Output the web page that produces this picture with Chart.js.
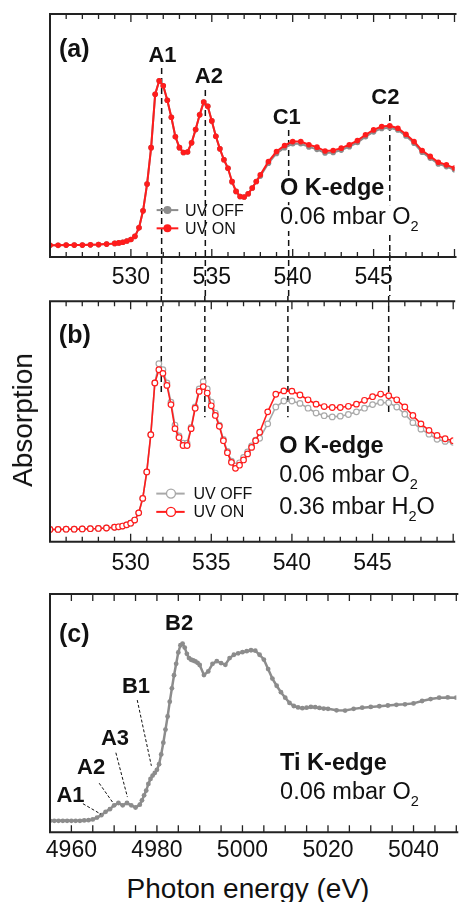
<!DOCTYPE html>
<html>
<head>
<meta charset="utf-8">
<script src="https://cdn.jsdelivr.net/npm/chart.js@4.4.0/dist/chart.umd.min.js"></script>
<style>
  body { margin: 0; background: #fff; width: 461px; height: 902px; overflow: hidden; position: relative;
         font-family: 'Liberation Sans', Arial, Helvetica, sans-serif; }
  canvas { position: absolute; left: 0; }
  #ytitle { position: absolute; left: 23px; top: 420px; transform: translate(-50%, -50%) rotate(-90deg);
            font-size: 28px; white-space: nowrap; color: #111; }
  #xtitle { position: absolute; left: 248px; top: 889px; transform: translate(-50%, -50%);
            font-size: 28px; white-space: nowrap; color: #111; }
</style>
</head>
<body>
<canvas id="chartA" width="461" height="296" style="top:0px"></canvas>
<canvas id="chartB" width="461" height="294" style="top:296px"></canvas>
<canvas id="chartC" width="461" height="280" style="top:590px"></canvas>
<div id="ytitle">Absorption</div>
<div id="xtitle">Photon energy (eV)</div>
<script>
// ---- data ----
const oEnergy = [525, 525.5, 526, 526.5, 527, 527.5, 528, 528.5, 529,
  529.25, 529.5, 529.75, 530, 530.25, 530.5, 530.75, 531, 531.25, 531.5, 531.75,
  532, 532.25, 532.5, 532.75, 533, 533.25, 533.5, 533.75, 534, 534.25, 534.5, 534.75,
  535, 535.25, 535.5, 535.75, 536, 536.25, 536.5, 536.75, 537, 537.25, 537.5, 537.75,
  538, 538.5, 539, 539.5, 540, 540.5, 541, 541.5, 542, 542.5, 543, 543.5,
  544, 544.5, 545, 545.5, 546, 546.5, 547, 547.5, 548, 548.5, 549, 549.5, 550];

// panel (a): O K-edge, 0.06 mbar O2
const aUvOn = [4.8, 4.8, 4.9, 4.9, 4.9, 5.0, 5.1, 5.3, 5.6,
  5.8, 6.1, 6.6, 7.2, 8.5, 12, 19, 30, 45, 67, 72.5,
  70.5, 64.5, 57.5, 49.5, 45, 43, 43.2, 47, 52.5, 58.5, 63.8, 62,
  56, 49.7, 44.5, 40, 36.5, 31, 27, 24.9, 24.7, 26, 28.4, 31.1,
  33.8, 39.3, 43.4, 45.9, 47.5, 47.5, 46.2, 45.2, 43.6, 43.8, 44.8, 46.2,
  47.9, 50.3, 52.3, 53.7, 54, 53, 50.5, 47.5, 43.8, 41.4, 39, 37.9, 36.6];
const aUvOff = [4.8, 4.8, 4.9, 4.9, 4.9, 5.0, 5.1, 5.3, 5.6,
  5.8, 6.1, 6.6, 7.2, 8.5, 12, 19, 30, 45, 67, 72.5,
  70.5, 64.5, 57.5, 49.5, 45, 43, 43.2, 47, 52.5, 58.5, 63.8, 62,
  56, 49.7, 44.5, 40, 36.5, 31, 27, 24.9, 24.7, 26, 28.4, 31.1,
  33.3, 38.6, 42.6, 45.0, 46.6, 46.6, 45.3, 44.3, 42.8, 43.0, 44.0, 45.4,
  47.1, 49.5, 51.5, 52.9, 53.2, 52.3, 49.8, 46.8, 43.1, 40.7, 38.3, 37.2, 35.9];

// panel (b): O K-edge, 0.06 mbar O2 + 0.36 mbar H2O
const bUvOn = [5.1, 5.1, 5.2, 5.2, 5.3, 5.4, 5.5, 5.7, 6.0,
  6.2, 6.5, 7.0, 7.7, 9.0, 12, 18, 29, 44.5, 66, 71.5,
  70, 65, 57, 47, 43.3, 40, 40, 47, 55.5, 62.5, 64.5, 61.8,
  56.5, 52.5, 48, 42, 37, 33, 30.5, 31.8, 34, 36.5, 39.2, 42,
  45.5, 54, 61.3, 62.7, 62.6, 61, 59, 57.2, 56.2, 55.8, 55.8, 56.3,
  57.2, 58.8, 60.3, 61.4, 60.7, 59, 56, 52.5, 49, 46.3, 44.2, 42.8, 42];
const bUvOff = [5.1, 5.1, 5.2, 5.2, 5.3, 5.4, 5.5, 5.7, 6.0,
  6.2, 6.5, 7.0, 7.7, 9.0, 12, 18, 29, 44.5, 66, 74,
  71.5, 66, 58, 48.5, 44, 41, 41, 47.5, 56, 63.5, 66.5, 63.5,
  58, 53.5, 48.5, 42.5, 37.5, 33.5, 31.5, 32.8, 35, 37.3, 39.8, 42.2,
  43, 49, 56, 58.5, 58.5, 57.5, 55.5, 53.5, 52.4, 51.9, 52.2, 52.9,
  54, 55.5, 57, 57.9, 57.8, 56, 53, 49.5, 46.8, 44.7, 42.6, 41.7, 41.3];

// panel (c): Ti K-edge
const tiEnergy = [4955, 4956, 4957, 4958, 4959, 4960, 4961, 4962, 4963, 4964, 4965,
  4966, 4967, 4968, 4969, 4970, 4971, 4972, 4973, 4974, 4975, 4976,
  4976.5, 4977, 4977.5, 4978, 4978.5, 4979, 4979.5, 4980, 4980.5, 4981, 4981.5,
  4982, 4982.5, 4983, 4983.5, 4984, 4984.5, 4985, 4985.5, 4986, 4986.5, 4987,
  4987.5, 4988, 4988.5, 4989, 4989.5, 4990,
  4991, 4992, 4993, 4994, 4995, 4996, 4997, 4998, 4999, 5000, 5001, 5002, 5003,
  5004, 5005, 5006, 5007, 5008, 5009, 5010, 5011, 5012, 5013, 5014, 5015, 5016,
  5017, 5018, 5019, 5020,
  5022, 5024, 5026, 5028, 5030, 5032, 5034, 5036, 5038, 5040, 5042, 5044, 5046, 5048, 5050];
const tiAbs = [4.8, 4.8, 4.8, 4.8, 4.8, 4.8, 4.8, 4.8, 5.0, 5.1, 5.4,
  6.2, 7.2, 8.6, 9.7, 11.3, 12.3, 11.3, 12.3, 11.3, 10.4, 11.6,
  13.4, 15.5, 17.5, 20.3, 22.4, 23.8, 24.9, 26.2, 28.6, 32.7, 37.6,
  43.1, 48.6, 54.8, 60.4, 65.9, 70.7, 75.5, 78.5, 79.2, 77.5, 74.9,
  73.1, 72.4, 72.1, 71.7, 71.1, 70.2,
  66, 67.5, 70.7, 71.8, 71.0, 70.3, 73.1, 74.5, 75.1, 75.6, 76.0, 76.4, 76.2,
  74.5, 72.5, 68.5, 64.5, 61.5, 58.8, 56.5, 54.3, 53, 52.4, 52.1, 52.3, 52.6,
  52.5, 52.2, 51.9, 51.8,
  51.2, 51.1, 51.8, 52.3, 52.6, 52.9, 53.2, 53.5, 53.7, 54.1, 55.1, 55.9, 56.5, 56.6, 56.5];

// peak markers (eV) and annotation labels
const oPeakNames = ["A1", "A2", "C1", "C2"];
const oPeakEnergy = [531.9, 534.6, 539.75, 546.0];
const tiPeakNames = ["A1", "A2", "A3", "B1", "B2"];

const FONT = "'Liberation Sans', Arial, Helvetica, sans-serif";
const RED = "#ff1c1c";
const GREY = "#8c8c8c";
const LIGHTGREY = "#a9a9a9";

function xy(xs, ys) { return xs.map((x, i) => ({ x: x, y: ys[i] })); }

function drawRich(ctx, parts, x, y, size, bold, box) {
  ctx.textAlign = "left";
  ctx.textBaseline = "alphabetic";
  let w = 0;
  const pieces = parts.map(p => {
    const fs = p[1] ? size * 0.62 : size;
    ctx.font = (bold ? "bold " : "") + fs + "px " + FONT;
    const r = { t: p[0], fs: fs, dy: p[1] ? size * 0.3 : 0, x: x + w };
    w += ctx.measureText(p[0]).width;
    return r;
  });
  if (box) {
    ctx.fillStyle = "#fff";
    ctx.fillRect(x - 2, y - size * 0.8, w + 4, size * 1.1);
  }
  ctx.fillStyle = "#111";
  pieces.forEach(r => {
    ctx.font = (bold ? "bold " : "") + r.fs + "px " + FONT;
    ctx.fillText(r.t, r.x, y + r.dy);
  });
}

function drawFrame(chart, tickLen) {
  const ctx = chart.ctx, a = chart.chartArea, x = chart.scales.x;
  ctx.save();
  ctx.strokeStyle = "#222";
  ctx.lineWidth = 1.3;
  ctx.beginPath();
  x.ticks.forEach(t => {
    const px = x.getPixelForValue(t.value);
    const L = tickLen(t.value);
    ctx.moveTo(px, a.bottom); ctx.lineTo(px, a.bottom - L);
    ctx.moveTo(px, a.top); ctx.lineTo(px, a.top + L);
  });
  ctx.stroke();
  ctx.lineWidth = 2;
  ctx.beginPath();
  ctx.moveTo(a.right + 2, a.top); ctx.lineTo(a.left, a.top);
  ctx.lineTo(a.left, a.bottom); ctx.lineTo(a.right + 2, a.bottom);
  ctx.stroke();
  ctx.restore();
}

function dashed(ctx, px, y0, y1, dash, width) {
  ctx.save();
  ctx.strokeStyle = "#111";
  ctx.lineWidth = width;
  ctx.setLineDash(dash);
  ctx.beginPath();
  ctx.moveTo(px, y0); ctx.lineTo(px, y1);
  ctx.stroke();
  ctx.restore();
}

function legendRow(chart, e0, e1, eMark, eText, yv, color, open, label) {
  const ctx = chart.ctx, x = chart.scales.x, y = chart.scales.y;
  const py = y.getPixelForValue(yv);
  ctx.save();
  ctx.strokeStyle = color;
  ctx.lineWidth = 2;
  ctx.beginPath();
  ctx.moveTo(x.getPixelForValue(e0), py); ctx.lineTo(x.getPixelForValue(e1), py);
  ctx.stroke();
  ctx.beginPath();
  ctx.arc(x.getPixelForValue(eMark), py, open ? 4.5 : 4, 0, Math.PI * 2);
  ctx.fillStyle = open ? "#fff" : color;
  ctx.fill();
  if (open) { ctx.lineWidth = 1.4; ctx.stroke(); }
  ctx.fillStyle = "#111";
  ctx.font = "16px " + FONT;
  ctx.textAlign = "left";
  ctx.textBaseline = "middle";
  ctx.fillText(label, x.getPixelForValue(eText), py + 1);
  ctx.restore();
}

function baseOptions(xmin, xmax, step, labelEvery, padTop, axisHeight, labelPad) {
  return {
    responsive: false,
    animation: false,
    layout: { padding: { left: 50, right: 0, top: padTop, bottom: 0 } },
    elements: { line: { tension: 0 } },
    plugins: { legend: { display: false }, tooltip: { enabled: false } },
    scales: {
      x: {
        type: "linear", min: xmin, max: xmax,
        grid: { display: false, drawTicks: false },
        border: { display: false },
        ticks: {
          stepSize: step, autoSkip: false, maxRotation: 0, minRotation: 0,
          padding: labelPad, color: "#111",
          font: { family: FONT, size: 23 },
          callback: v => (v % labelEvery === 0 && v > xmin && v < xmax) ? String(v) : ""
        },
        afterFit: s => { s.height = axisHeight; }
      },
      y: { display: false, min: 0, max: 100 }
    }
  };
}

const oTicks = v => (v % 5 === 0 ? 8 : 5);

// ---- panel (a) ----
const aLabels = [[531.95, 80.2], [534.82, 71.6], [539.63, 54.7], [545.73, 63]];
const aDashTop = [77.8, 68.7, 52.3, 58.4];
new Chart(document.getElementById("chartA"), {
  type: "line",
  data: {
    datasets: [
      { label: "UV ON", data: xy(oEnergy, aUvOn), borderColor: RED, backgroundColor: RED,
        borderWidth: 2, pointRadius: 2.8, pointBorderWidth: 0 },
      { label: "UV OFF", data: xy(oEnergy, aUvOff), borderColor: GREY, backgroundColor: GREY,
        borderWidth: 2, pointRadius: 2.8, pointBorderWidth: 0 }
    ]
  },
  options: baseOptions(525, 550, 1, 5, 14, 39, 6.5),
  plugins: [{
    id: "panelA",
    beforeDatasetsDraw(chart) {
      const x = chart.scales.x, y = chart.scales.y;
      oPeakEnergy.forEach((e, i) => dashed(chart.ctx, x.getPixelForValue(e), y.getPixelForValue(aDashTop[i]), chart.height, [6, 4], 1.5));
    },
    afterDraw(chart) {
      const ctx = chart.ctx, x = chart.scales.x, y = chart.scales.y;
      drawFrame(chart, oTicks);
      ctx.save();
      ctx.fillStyle = "#111";
      ctx.font = "bold 22px " + FONT;
      ctx.textAlign = "center";
      ctx.textBaseline = "alphabetic";
      oPeakNames.forEach((n, i) => ctx.fillText(n, x.getPixelForValue(aLabels[i][0]), y.getPixelForValue(aLabels[i][1])));
      drawRich(ctx, [["(a)"]], x.getPixelForValue(525.55), y.getPixelForValue(82.3), 25, true, false);
      drawRich(ctx, [["O K-edge"]], x.getPixelForValue(539.21), y.getPixelForValue(25.5), 23.5, true, true);
      drawRich(ctx, [["0.06 mbar O"], ["2", true]], x.getPixelForValue(539.21), y.getPixelForValue(13.6), 23.5, false, true);
      ctx.restore();
      legendRow(chart, 531.59, 532.93, 532.26, 533.35, 19.3, GREY, false, "UV OFF");
      legendRow(chart, 531.59, 532.93, 532.26, 533.35, 11.8, RED, false, "UV ON");
    }
  }]
});

// ---- panel (b) ----
const bDashEnd = [60.6, 51.7, 51.7, 52.8];
new Chart(document.getElementById("chartB"), {
  type: "line",
  data: {
    datasets: [
      { label: "UV ON", data: xy(oEnergy, bUvOn), borderColor: RED, backgroundColor: "#fff",
        borderWidth: 1.6, pointRadius: 2.8, pointBorderWidth: 1.2, pointBorderColor: RED, pointBackgroundColor: "#fff" },
      { label: "UV OFF", data: xy(oEnergy, bUvOff), borderColor: LIGHTGREY, backgroundColor: "#fff",
        borderWidth: 1.6, pointRadius: 2.8, pointBorderWidth: 1.2, pointBorderColor: LIGHTGREY, pointBackgroundColor: "#fff" }
    ]
  },
  options: baseOptions(525, 550, 1, 5, 3.5, 48.3, 7.8),
  plugins: [{
    id: "panelB",
    beforeDatasetsDraw(chart) {
      const x = chart.scales.x, y = chart.scales.y;
      oPeakEnergy.forEach((e, i) => dashed(chart.ctx, x.getPixelForValue(e), 0, y.getPixelForValue(bDashEnd[i]), [6, 4], 1.5));
    },
    afterDraw(chart) {
      const ctx = chart.ctx, x = chart.scales.x, y = chart.scales.y;
      drawFrame(chart, oTicks);
      drawRich(ctx, [["(b)"]], x.getPixelForValue(525.55), y.getPixelForValue(82.5), 25, true, false);
      drawRich(ctx, [["O K-edge"]], x.getPixelForValue(539.21), y.getPixelForValue(36.9), 23.5, true, false);
      drawRich(ctx, [["0.06 mbar O"], ["2", true]], x.getPixelForValue(539.21), y.getPixelForValue(24.8), 23.5, false, false);
      drawRich(ctx, [["0.36 mbar H"], ["2", true], ["O"]], x.getPixelForValue(539.21), y.getPixelForValue(11.4), 23.5, false, false);
      legendRow(chart, 531.59, 533.35, 532.5, 533.9, 20, LIGHTGREY, true, "UV OFF");
      legendRow(chart, 531.59, 533.35, 532.5, 533.9, 12.4, RED, true, "UV ON");
    }
  }]
});

// ---- panel (c) ----
const cLabels = [[4959.8, 12.6], [4964.6, 24.5], [4970.2, 36.6], [4975.1, 58.3], [4985.2, 85]];
const cLeaders = [
  [[4962.7, 12.0], [4966.9, 7.6]],
  [[4966.5, 20.6], [4969.6, 12.7]],
  [[4970.4, 33.4], [4973.1, 14.8]],
  [[4975.4, 55.5], [4978.7, 27.9]]
];
new Chart(document.getElementById("chartC"), {
  type: "line",
  data: {
    datasets: [
      { label: "Ti K-edge", data: xy(tiEnergy, tiAbs), borderColor: GREY, backgroundColor: GREY,
        borderWidth: 2.5, pointRadius: 2.4, pointBorderWidth: 0 }
    ]
  },
  options: baseOptions(4955, 5050, 5, 20, 1, 37.7, 4.7),
  plugins: [{
    id: "panelC",
    afterDraw(chart) {
      const ctx = chart.ctx, x = chart.scales.x, y = chart.scales.y;
      drawFrame(chart, () => 7);
      ctx.save();
      ctx.strokeStyle = "#111";
      ctx.lineWidth = 1;
      ctx.setLineDash([3, 2]);
      cLeaders.forEach(l => {
        ctx.beginPath();
        ctx.moveTo(x.getPixelForValue(l[0][0]), y.getPixelForValue(l[0][1]));
        ctx.lineTo(x.getPixelForValue(l[1][0]), y.getPixelForValue(l[1][1]));
        ctx.stroke();
      });
      ctx.setLineDash([]);
      ctx.fillStyle = "#111";
      ctx.font = "bold 22px " + FONT;
      ctx.textAlign = "center";
      ctx.textBaseline = "alphabetic";
      tiPeakNames.forEach((n, i) => ctx.fillText(n, x.getPixelForValue(cLabels[i][0]), y.getPixelForValue(cLabels[i][1])));
      ctx.restore();
      drawRich(ctx, [["(c)"]], x.getPixelForValue(4957.1), y.getPixelForValue(80), 25, true, false);
      drawRich(ctx, [["Ti K-edge"]], x.getPixelForValue(5008.8), y.getPixelForValue(26.1), 23.5, true, false);
      drawRich(ctx, [["0.06 mbar O"], ["2", true]], x.getPixelForValue(5008.8), y.getPixelForValue(14.1), 23.5, false, false);
    }
  }]
});
</script>
</body>
</html>
